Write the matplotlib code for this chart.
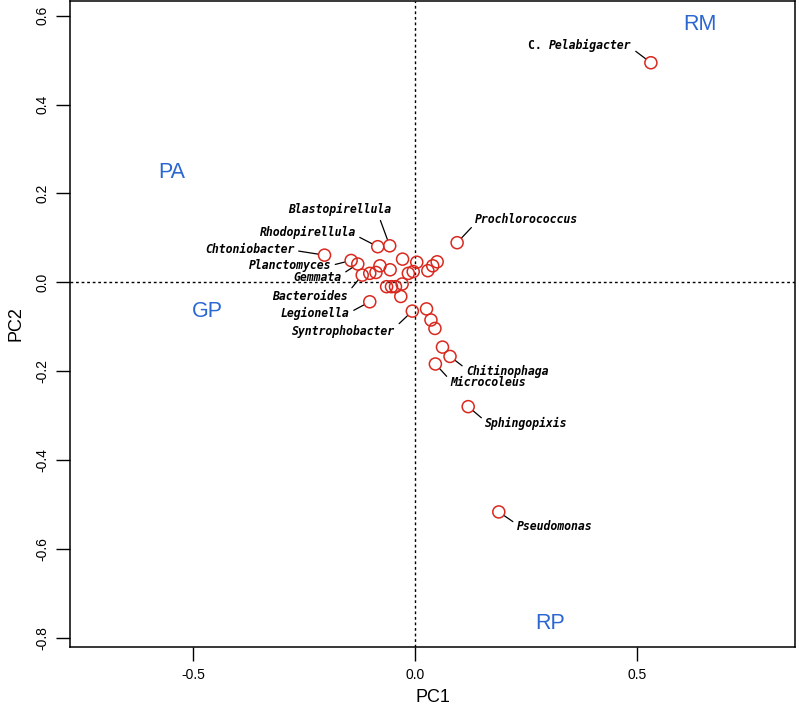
import numpy as np
import matplotlib
matplotlib.use("Agg")
import matplotlib.pyplot as plt

# PCA scores (PC1, PC2)
pc1 = [0.532, 0.189, 0.120, 0.079, 0.062, 0.046, 0.045, 0.036, 0.026, -0.006,
       -0.102, -0.032, -0.064, -0.053, -0.044, -0.029, -0.119, -0.102, -0.088, -0.079,
       -0.056, -0.129, -0.144, -0.204, -0.084, -0.057, -0.028, 0.004, -0.015, -0.004,
       0.029, 0.040, 0.050, 0.095]
pc2 = [0.494, -0.517, -0.280, -0.167, -0.146, -0.184, -0.104, -0.085, -0.060, -0.065,
       -0.044, -0.032, -0.010, -0.010, -0.010, -0.004, 0.016, 0.020, 0.022, 0.037,
       0.028, 0.041, 0.049, 0.061, 0.080, 0.082, 0.052, 0.045, 0.020, 0.024,
       0.026, 0.037, 0.046, 0.089]
names = ["Pelabigacter", "Pseudomonas", "Sphingopixis", "Chitinophaga", "", "Microcoleus", "", "", "",
         "Syntrophobacter", "Legionella", "", "", "", "", "", "Bacteroides", "", "", "",
         "", "Gemmata", "Planctomyces", "Chtoniobacter", "Rhodopirellula", "Blastopirellula",
         "", "", "", "", "", "", "", "Prochlorococcus"]

quad_labels = ["PA", "GP", "RM", "RP"]
quad_x = [-0.548, -0.469, 0.643, 0.305]
quad_y = [0.248, -0.065, 0.579, -0.767]

# label placement: offset in pixels, horizontal alignment, relpos for leader line
label_pos = {
    "Pelabigacter": (-19, 17, "right", (1, 0.3)),
    "Pseudomonas": (18, -15, "left", (0, 0.7)),
    "Sphingopixis": (17, -17, "left", (0, 0.7)),
    "Chitinophaga": (16, -15, "left", (0, 0.7)),
    "Microcoleus": (15, -19, "left", (0, 0.7)),
    "Syntrophobacter": (-17, -20, "right", (1, 0.8)),
    "Legionella": (-20, -12, "right", (1, 0.6)),
    "Bacteroides": (-14, -21, "right", (1, 0.8)),
    "Gemmata": (-16, -13, "right", (1, 0.7)),
    "Planctomyces": (-20, -5, "right", (1, 0.5)),
    "Chtoniobacter": (-30, 6, "right", (1, 0.4)),
    "Rhodopirellula": (-22, 14, "right", (1, 0.3)),
    "Blastopirellula": (-50, 36, "center", (0.88, 0)),
    "Prochlorococcus": (18, 23, "left", (0, 0.2)),
}

fig = plt.figure(figsize=(8, 7.08), dpi=100)
ax = fig.add_axes([70 / 800, 1 - 647 / 708, 725 / 800, 646 / 708])

ax.axvline(0, color="black", lw=1, ls=(0, (2, 2)), zorder=1)
ax.axhline(0, color="black", lw=1, ls=(0, (2, 2)), zorder=1)

ax.scatter(pc1, pc2, s=75, facecolors="none", edgecolors="#d9291f", linewidths=1.1, zorder=3)

fs = 8.3
mono = dict(family="DejaVu Sans Mono", weight="bold", fontsize=fs)
for x, y, n in zip(pc1, pc2, names):
    if not n:
        continue
    dx, dy, ha, rp = label_pos[n]
    ax.annotate(n, xy=(x, y), xytext=(dx, dy), textcoords="offset pixels",
                ha=ha, va="center", style="italic", **mono,
                arrowprops=dict(arrowstyle="-", color="black", lw=0.9,
                                shrinkA=1, shrinkB=5, relpos=rp))
    if n == "Pelabigacter":
        char_px = 0.602 * fs * 100 / 72
        ax.annotate("C. ", xy=(x, y), xytext=(dx - len(n) * char_px, dy),
                    textcoords="offset pixels", ha="right", va="center", **mono)

for t, x, y in zip(quad_labels, quad_x, quad_y):
    ax.text(x, y, t, color="#2b67d1", fontsize=15.5, family="Liberation Sans",
            ha="center", va="center")

ax.set_xlim(-0.778, 0.857)
ax.set_ylim(-0.821, 0.633)
ax.set_xticks([-0.5, 0.0, 0.5])
ax.set_xticklabels(["-0.5", "0.0", "0.5"])
ax.set_yticks([-0.8, -0.6, -0.4, -0.2, 0.0, 0.2, 0.4, 0.6])
ax.set_yticklabels(["-0.8", "-0.6", "-0.4", "-0.2", "0.0", "0.2", "0.4", "0.6"],
                   rotation=90, va="center")
ax.tick_params(length=10, width=1, labelsize=10, pad=5)
for lab in ax.get_xticklabels() + ax.get_yticklabels():
    lab.set_family("Liberation Sans")
for sp in ax.spines.values():
    sp.set_linewidth(1.1)

ax.set_xlabel("PC1", fontsize=13, family="Liberation Sans", labelpad=5)
ax.set_ylabel("PC2", fontsize=13, family="Liberation Sans", labelpad=8)

fig.savefig("out.png", dpi=100)
